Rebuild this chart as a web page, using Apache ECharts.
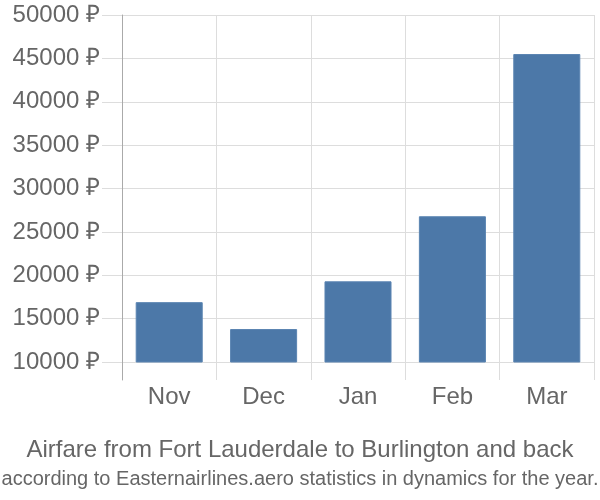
<!DOCTYPE html>
<html><head><meta charset="utf-8">
<script src="https://cdn.jsdelivr.net/npm/echarts@6/dist/echarts.min.js"></script>
<style>html,body{margin:0;padding:0;background:#fff}#c{width:600px;height:500px}</style>
</head><body><div id="c"></div>
<script>
var categories = ['Nov', 'Dec', 'Jan', 'Feb', 'Mar'];
var prices = [16900, 13800, 19300, 26800, 45500];
var yMin = 10000, yMax = 50000, yStep = 5000;
var titleText = 'Airfare from Fort Lauderdale to Burlington and back';
var subText = 'according to Easternairlines.aero statistics in dynamics for the year.';

var chart = echarts.init(document.getElementById('c'));
chart.setOption({
  animation: false,
  title: [
    { text: titleText, left: 'center', top: 433, textStyle: { fontFamily: 'Liberation Sans, Arial', fontSize: 24, fontWeight: 'normal', color: '#666' } },
    { text: subText, left: 'center', top: 464, textStyle: { fontFamily: 'Liberation Sans Narrow, Liberation Sans, Arial', fontSize: 20, fontWeight: 'normal', color: '#666' } }
  ],
  grid: [
    { left: 122, right: 6, top: 15, bottom: 138 },
    { left: 122, right: 6, top: 15, bottom: 120 }
  ],
  xAxis: [
    { gridIndex: 0, type: 'category', data: categories, show: false },
    { gridIndex: 1, type: 'category', data: categories,
      axisLine: { show: false }, axisTick: { show: false },
      splitLine: { show: true, interval: 0, lineStyle: { color: '#ddd', width: 1 } },
      axisLabel: { color: '#666', fontSize: 24, fontFamily: 'Liberation Sans, Arial', margin: 5 } }
  ],
  yAxis: [
    { gridIndex: 0, type: 'value', min: yMin, max: yMax, interval: yStep,
      axisLine: { show: false },
      axisTick: { show: true, length: 20, lineStyle: { color: '#ddd' } },
      splitLine: { show: true, lineStyle: { color: '#ddd' } },
      axisLabel: { color: '#666', fontSize: 24, fontFamily: 'Liberation Sans, Arial', margin: 22,
        formatter: function (v) { return v + ' \u20BD'; } } },
    { gridIndex: 1, type: 'value', min: 0, max: 1,
      axisLine: { show: true, lineStyle: { color: '#aaa', width: 1 } },
      axisTick: { show: false }, axisLabel: { show: false }, splitLine: { show: false } }
  ],
  series: [
    { type: 'bar', xAxisIndex: 0, yAxisIndex: 0, data: prices, barWidth: '71%',
      itemStyle: { color: '#4c78a8', borderColor: '#5a84b2', borderWidth: 1 } }
  ]
});
</script></body></html>
